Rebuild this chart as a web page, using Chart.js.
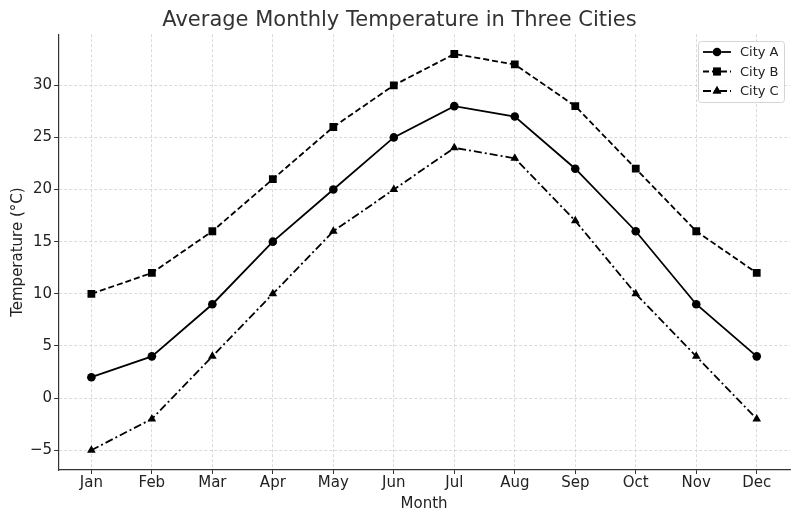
<!DOCTYPE html>
<html lang="en">
<head>
  <meta charset="UTF-8">
  <title>Average Monthly Temperature in Three Cities</title>
  <script src="https://cdn.jsdelivr.net/npm/chart.js"></script>
  <style>
    html, body { margin: 0; padding: 0; background: #fff; }
    #wrap { width: 800px; height: 516px; }
  </style>
</head>
<body>
<div id="wrap"><canvas id="tempChart" width="800" height="516"></canvas></div>
<script>
const months = ['Jan', 'Feb', 'Mar', 'Apr', 'May', 'Jun', 'Jul', 'Aug', 'Sep', 'Oct', 'Nov', 'Dec'];
const cityA = [2, 4, 9, 15, 20, 25, 28, 27, 22, 16, 9, 4];
const cityB = [10, 12, 16, 21, 26, 30, 33, 32, 28, 22, 16, 12];
const cityC = [-5, -2, 4, 10, 16, 20, 24, 23, 17, 10, 4, -2];
const yTicks = [-5, 0, 5, 10, 15, 20, 25, 30];

const FONT = "'DejaVu Sans', sans-serif";

function toPoints(arr) {
  return arr.map((v, i) => ({ x: i, y: v }));
}

function series(label, values, dash, style, radius) {
  return {
    label: label,
    data: toPoints(values),
    borderColor: '#000',
    backgroundColor: '#000',
    borderWidth: 1.8,
    borderDash: dash,
    pointStyle: style,
    pointRadius: radius,
    pointHoverRadius: radius,
    pointBorderWidth: 0,
    tension: 0
  };
}

// matplotlib-like legend box with line samples
const boxLegend = {
  id: 'boxLegend',
  afterDraw(chart) {
    const ctx = chart.ctx;
    const x0 = 698, y0 = 41, w = 86, h = 61;
    ctx.save();
    ctx.fillStyle = 'rgba(255,255,255,0.85)';
    ctx.strokeStyle = '#d5d5d5';
    ctx.lineWidth = 1;
    ctx.beginPath();
    ctx.roundRect(x0 + 0.5, y0 + 0.5, w, h, 3);
    ctx.fill();
    ctx.stroke();
    chart.data.datasets.forEach((ds, i) => {
      const y = y0 + 11 + i * 19.5;
      ctx.strokeStyle = '#000';
      ctx.lineWidth = ds.borderWidth;
      ctx.setLineDash(ds.borderDash || []);
      ctx.beginPath();
      ctx.moveTo(703, y);
      ctx.lineTo(731, y);
      ctx.stroke();
      ctx.setLineDash([]);
      Chart.helpers.drawPoint(ctx, { pointStyle: ds.pointStyle, radius: ds.pointRadius, borderWidth: 0 }, 717, y);
      ctx.fillStyle = '#000';
      ctx.fill();
      ctx.fillStyle = '#222';
      ctx.font = '13px ' + FONT;
      ctx.textBaseline = 'middle';
      ctx.fillText(ds.label, 740, y + 1);
    });
    ctx.restore();
  }
};

const gridOpts = {
  color: '#d0d0d0',
  tickColor: '#333',
  tickLength: 4,
  lineWidth: 0.8,
  tickWidth: 1
};

new Chart(document.getElementById('tempChart'), {
  type: 'line',
  data: {
    datasets: [
      series('City A', cityA, [], 'circle', 4.3),
      series('City B', cityB, [6, 3], 'rect', 5.5),
      series('City C', cityC, [8, 3, 2, 3], 'triangle', 5)
    ]
  },
  options: {
    responsive: false,
    animation: false,
    layout: { padding: { left: 9, right: 10, top: 2, bottom: 3 } },
    plugins: {
      legend: { display: false },
      tooltip: { enabled: false },
      title: {
        display: true,
        text: 'Average Monthly Temperature in Three Cities',
        color: '#333',
        font: { family: FONT, size: 21, weight: 'normal' },
        padding: { top: 6, bottom: 1 }
      }
    },
    scales: {
      x: {
        type: 'linear',
        min: -0.55,
        max: 11.55,
        afterBuildTicks(axis) {
          axis.ticks = months.map((m, i) => ({ value: i }));
        },
        ticks: {
          color: '#222',
          font: { family: FONT, size: 15 },
          padding: 0,
          maxRotation: 0,
          callback: (v) => months[v]
        },
        grid: gridOpts,
        border: { display: true, color: '#333', width: 1.2, dash: [3, 2] },
        title: {
          display: true,
          text: 'Month',
          color: '#222',
          font: { family: FONT, size: 15 },
          padding: { top: 3, bottom: 0 }
        }
      },
      y: {
        type: 'linear',
        min: -6.9,
        max: 34.9,
        afterBuildTicks(axis) {
          axis.ticks = yTicks.map(v => ({ value: v }));
        },
        ticks: {
          color: '#222',
          font: { family: FONT, size: 15 },
          padding: 2,
          callback: (v) => (v < 0 ? '\u2212' + Math.abs(v) : String(v))
        },
        grid: gridOpts,
        border: { display: true, color: '#333', width: 1.2, dash: [3, 2] },
        title: {
          display: true,
          text: 'Temperature (°C)',
          color: '#222',
          font: { family: FONT, size: 15 },
          padding: { top: 0, bottom: 1 }
        }
      }
    }
  },
  plugins: [boxLegend]
});
</script>
</body>
</html>
